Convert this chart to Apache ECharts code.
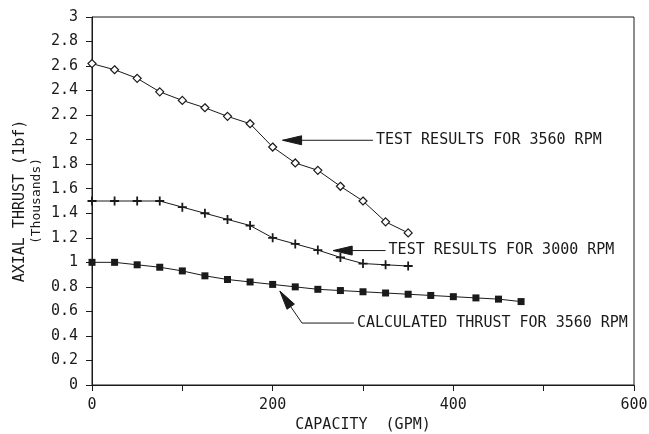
<!DOCTYPE html>
<html>
<head>
<meta charset="utf-8">
<script src="https://cdn.jsdelivr.net/npm/echarts@6/dist/echarts.min.js"></script>
<style>
html,body{margin:0;padding:0;background:#fff;}
#c{width:649px;height:434px;}
</style>
</head>
<body>
<div id="c"></div>
<script>
// Capacity (GPM)
const capacityTest = [0,25,50,75,100,125,150,175,200,225,250,275,300,325,350];
const capacityCalc = [0,25,50,75,100,125,150,175,200,225,250,275,300,325,350,375,400,425,450,475];
// Axial thrust (thousands lbf)
const test3560 = [2.62,2.57,2.50,2.39,2.32,2.26,2.19,2.13,1.94,1.81,1.75,1.62,1.50,1.33,1.24];
const test3000 = [1.50,1.50,1.50,1.50,1.45,1.40,1.35,1.30,1.20,1.15,1.10,1.04,0.99,0.98,0.97];
const calc3560 = [1.00,1.00,0.98,0.96,0.93,0.89,0.86,0.84,0.82,0.80,0.78,0.77,0.76,0.75,0.74,0.73,0.72,0.71,0.70,0.68];
const xTickLabels = [0,200,400,600];
const yTickLabels = [0,0.2,0.4,0.6,0.8,1,1.2,1.4,1.6,1.8,2,2.2,2.4,2.6,2.8,3];
const yTitle = ['AXIAL THRUST (1bf)','(Thousands)'];

// annotation anchors in data units [GPM, thousands lbf]
const annoText = ['TEST RESULTS FOR 3560 RPM','TEST RESULTS FOR 3000 RPM','CALCULATED THRUST FOR 3560 RPM'];
const annoPaths = [
  [[211,1.995],[311,1.995]],
  [[267,1.096],[325,1.096]],
  [[208,0.766],[232.5,0.505],[290,0.505]]
];

const FONT = '"DejaVu Sans Mono", monospace';
const INK = '#1a1a1a';
function zip(xs, ys){ return xs.map((x,i)=>[x,ys[i]]); }

const chart = echarts.init(document.getElementById('c'), null, {renderer:'canvas'});
const option = {
  animation:false,
  backgroundColor:'#fff',
  grid:{left:92,right:15,top:17,bottom:49,show:true,borderColor:INK,borderWidth:1,
        containLabel:false,outerBoundsMode:'none'},
  xAxis:{
    type:'value',min:0,max:600,interval:100,
    name:'CAPACITY  (GPM)',nameLocation:'middle',nameGap:32,
    nameTextStyle:{fontFamily:FONT,fontSize:15,color:INK},
    axisLine:{lineStyle:{color:INK,width:1}},
    axisTick:{show:true,length:6,lineStyle:{color:INK}},
    splitLine:{show:false},
    axisLabel:{fontFamily:FONT,fontSize:15,color:INK,margin:13,
      formatter:v=> xTickLabels.indexOf(v)>=0 ? String(v) : ''}
  },
  yAxis:{
    type:'value',min:0,max:3,interval:0.2,
    axisLine:{lineStyle:{color:INK,width:1}},
    axisTick:{show:true,length:6,lineStyle:{color:INK}},
    splitLine:{show:false},
    axisLabel:{fontFamily:FONT,fontSize:15,color:INK,margin:14,
      formatter:v=>{ const r=Math.round(v*10)/10; return yTickLabels.indexOf(r)>=0 ? String(r) : ''; }}
  },
  series:[
    {type:'line',data:zip(capacityTest,test3560),symbol:'diamond',symbolSize:8,
     lineStyle:{color:INK,width:1},itemStyle:{color:'#fff',borderColor:INK,borderWidth:1.2}},
    {type:'line',data:zip(capacityTest,test3000),symbol:'path://M4,0h2v10h-2z M0,4h10v2h-10z',symbolSize:9,
     lineStyle:{color:INK,width:1},itemStyle:{color:INK,borderWidth:0}},
    {type:'line',data:zip(capacityCalc,calc3560),symbol:'rect',symbolSize:7,
     lineStyle:{color:INK,width:1},itemStyle:{color:INK,borderWidth:0}}
  ]
};
chart.setOption(option);

const elems = [];
annoPaths.forEach((path,i)=>{
  const pts = path.map(p=>chart.convertToPixel({gridIndex:0},p));
  elems.push({type:'polyline',shape:{points:pts},style:{stroke:INK,lineWidth:1,fill:null},silent:true});
  const tip = pts[0], nxt = pts[1];
  const dx = nxt[0]-tip[0], dy = nxt[1]-tip[1];
  const len = Math.hypot(dx,dy), ux = dx/len, uy = dy/len;
  const L = 19, W = 4.5;
  const bx = tip[0]+ux*L, by = tip[1]+uy*L;
  elems.push({type:'polygon',shape:{points:[tip,[bx-uy*W,by+ux*W],[bx+uy*W,by-ux*W]]},
    style:{fill:INK,stroke:INK,lineWidth:1},silent:true});
  const end = pts[pts.length-1];
  elems.push({type:'text',x:end[0]+3,y:end[1],
    style:{text:annoText[i],font:'15px '+FONT,fill:INK,textVerticalAlign:'middle',verticalAlign:'middle',align:'left'},silent:true});
});
// y-axis title, centred on the plot's vertical middle
const midY = (chart.convertToPixel({gridIndex:0},[0,0])[1] + chart.convertToPixel({gridIndex:0},[0,3])[1]) / 2;
elems.push({type:'text',x:20,y:midY,rotation:Math.PI/2,
  style:{text:yTitle[0],font:'15px '+FONT,fill:INK,align:'center',verticalAlign:'middle'},silent:true});
elems.push({type:'text',x:37,y:midY,rotation:Math.PI/2,
  style:{text:yTitle[1],font:'13px '+FONT,fill:INK,align:'center',verticalAlign:'middle'},silent:true});
chart.setOption({graphic:{elements:elems}});
</script>
</body>
</html>
